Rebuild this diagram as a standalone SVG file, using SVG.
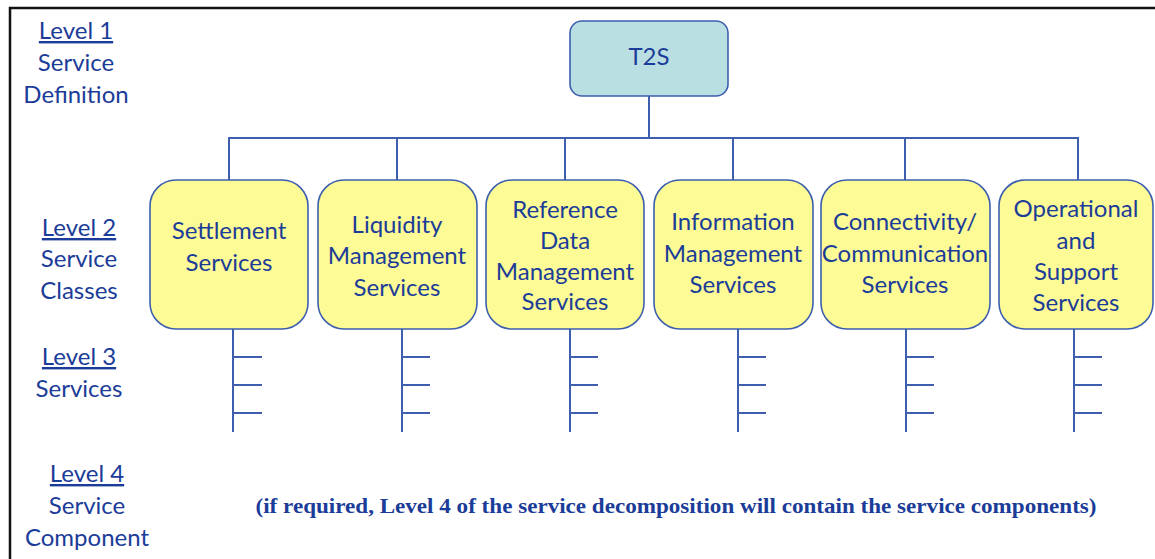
<svg xmlns="http://www.w3.org/2000/svg" width="1155" height="559" viewBox="0 0 1155 559">
<style>
.t{font-family:Lato,"Liberation Sans",sans-serif;font-size:24px;fill:#1b3c98;text-anchor:middle}
.u{text-decoration:underline}
.box{fill:#fdfb95;stroke:#3d5fae;stroke-width:1.6}
.top{fill:#badfe2;stroke:#3d5fae;stroke-width:1.6}
.ln{stroke:#3d5fae;stroke-width:2;fill:none}
.note{font-family:"Liberation Serif",serif;font-weight:bold;font-size:21px;fill:#1b3c98;text-anchor:middle}
</style>
<rect x="0" y="0" width="1155" height="559" fill="#fff"/>
<path d="M10 559 V8 H1155" fill="none" stroke="#111" stroke-width="2.5"/>
<g id="labels">
<text class="t u" x="76" y="39">Level 1</text>
<text class="t" x="76" y="71">Service</text>
<text class="t" x="76" y="103">Definition</text>
<text class="t u" x="79" y="236">Level 2</text>
<text class="t" x="79" y="267">Service</text>
<text class="t" x="79" y="299">Classes</text>
<text class="t u" x="79" y="365">Level 3</text>
<text class="t" x="79" y="397">Services</text>
<text class="t u" x="87" y="482">Level 4</text>
<text class="t" x="87" y="514">Service</text>
<text class="t" x="87" y="546">Component</text>
</g>
<g id="connectors" class="ln">
<path d="M649 96 V138 M229 180 V138 H1078 V180 M397 138 V180 M565 138 V180 M733 138 V180 M905 138 V180"/>
<path d="M233 329 V432 M233 357 H262 M233 385 H262 M233 413 H262"/>
<path d="M402 329 V432 M402 357 H430 M402 385 H430 M402 413 H430"/>
<path d="M570 329 V432 M570 357 H598 M570 385 H598 M570 413 H598"/>
<path d="M738 329 V432 M738 357 H766 M738 385 H766 M738 413 H766"/>
<path d="M906 329 V432 M906 357 H934 M906 385 H934 M906 413 H934"/>
<path d="M1074 329 V432 M1074 357 H1102 M1074 385 H1102 M1074 413 H1102"/>
</g>
<g id="t2s"><rect class="top" x="570" y="21" width="158" height="75" rx="12"/><text class="t" x="649" y="65">T2S</text></g>
<g id="settlement"><rect class="box" x="150" y="180" width="158" height="149" rx="26"/>
<text class="t" x="229" y="239">Settlement</text><text class="t" x="229" y="271">Services</text></g>
<g id="liquidity"><rect class="box" x="318" y="180" width="159" height="149" rx="26"/>
<text class="t" x="397" y="233">Liquidity</text><text class="t" x="397" y="264">Management</text><text class="t" x="397" y="296">Services</text></g>
<g id="refdata"><rect class="box" x="486" y="180" width="158" height="149" rx="26"/>
<text class="t" x="565" y="218">Reference</text><text class="t" x="565" y="249">Data</text><text class="t" x="565" y="280">Management</text><text class="t" x="565" y="310">Services</text></g>
<g id="information"><rect class="box" x="654" y="180" width="159" height="149" rx="26"/>
<text class="t" x="733" y="230">Information</text><text class="t" x="733" y="262">Management</text><text class="t" x="733" y="293">Services</text></g>
<g id="connectivity"><rect class="box" x="821" y="180" width="169" height="149" rx="26"/>
<text class="t" x="905" y="230">Connectivity/</text><text class="t" x="905" y="262">Communication</text><text class="t" x="905" y="293">Services</text></g>
<g id="operational"><rect class="box" x="999" y="180" width="154" height="149" rx="26"/>
<text class="t" x="1076" y="217">Operational</text><text class="t" x="1076" y="249">and</text><text class="t" x="1076" y="280">Support</text><text class="t" x="1076" y="311">Services</text></g>
<g id="note"><text class="note" x="676" y="513" textLength="841" lengthAdjust="spacingAndGlyphs">(if required, Level 4 of the service decomposition will contain the service components)</text></g>
</svg>
